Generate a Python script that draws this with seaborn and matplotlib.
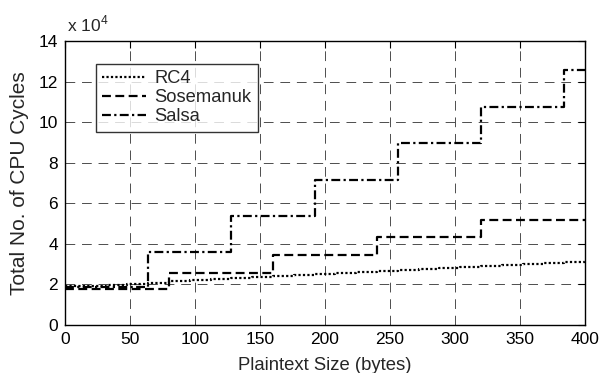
import pandas as pd
import seaborn as sns
import matplotlib
matplotlib.use("Agg")
import matplotlib.pyplot as plt
from matplotlib.ticker import FuncFormatter

# Step data (x = plaintext size in bytes, y = CPU cycles)
rc4_x = [0, 16, 32, 48, 64, 80, 96, 112, 128, 144, 160, 176, 192, 208, 224,
         240, 256, 272, 288, 304, 320, 336, 352, 368, 384, 400]
rc4_y = [19000, 19200, 19500, 20000, 20800, 21500, 22200, 22800, 23300, 23800,
         24300, 24700, 25200, 25600, 26100, 26600, 27100, 27600, 28100, 28600,
         29100, 29600, 30100, 30600, 31100, 31600]

sosemanuk_x = [0, 80, 160, 240, 320, 400]
sosemanuk_y = [17600, 25800, 34500, 43500, 51900, 51900]

salsa_x = [0, 64, 128, 192, 256, 320, 384, 400]
salsa_y = [18500, 36200, 53500, 71600, 89700, 107500, 125500, 125500]

series = {
    "RC4": (rc4_x, rc4_y, (0, (1, 1))),
    "Sosemanuk": (sosemanuk_x, sosemanuk_y, (0, (4, 2))),
    "Salsa": (salsa_x, salsa_y, (0, (4, 1.5, 1, 1.5))),
}

sns.set_style("white")
plt.rcParams['font.family'] = ['Liberation Sans', 'DejaVu Sans']
plt.rcParams['mathtext.fontset'] = 'custom'
plt.rcParams['mathtext.rm'] = 'Liberation Sans'

fig = plt.figure(figsize=(6.04, 3.73), dpi=100)
ax = fig.add_axes([0.1076, 0.1287, 0.8609, 0.7613])

for name, (xs, ys, ls) in series.items():
    df = pd.DataFrame({"size": xs, "cycles": ys})
    sns.lineplot(data=df, x="size", y="cycles", ax=ax, color="black",
                 linestyle=ls, linewidth=1.6, drawstyle="steps-post",
                 label=name)

ax.set_xlim(0, 400)
ax.set_ylim(0, 140000)
ax.set_xticks(range(0, 401, 50))
ax.set_yticks(range(0, 140001, 20000))
ax.yaxis.set_major_formatter(FuncFormatter(lambda v, p: f"{v / 1e4:g}"))

ax.grid(True, color="0.3", linestyle=(0, (10, 7)), linewidth=0.7)
ax.tick_params(direction="in", length=5, width=0.8, top=True, right=True,
               labelsize=12.5, colors="black", pad=5)
for s in ax.spines.values():
    s.set_color("black")
    s.set_linewidth(1.0)

ax.set_xlabel("Plaintext Size (bytes)", fontsize=13.3, labelpad=7)
ax.set_ylabel("Total No. of CPU Cycles", fontsize=15, labelpad=7)
ax.text(0.004, 1.025, r"x 10$^4$", transform=ax.transAxes, fontsize=12.5,
        ha="left", va="bottom")

leg = ax.legend(loc="upper left", bbox_to_anchor=(0.0596, 0.919), fontsize=13.2,
                frameon=True, fancybox=False, edgecolor="black",
                handlelength=2.4, handletextpad=0.45, borderpad=0.35,
                labelspacing=0.1, borderaxespad=0)
leg.get_frame().set_linewidth(1.0)

fig.savefig("out.png", dpi=100)
